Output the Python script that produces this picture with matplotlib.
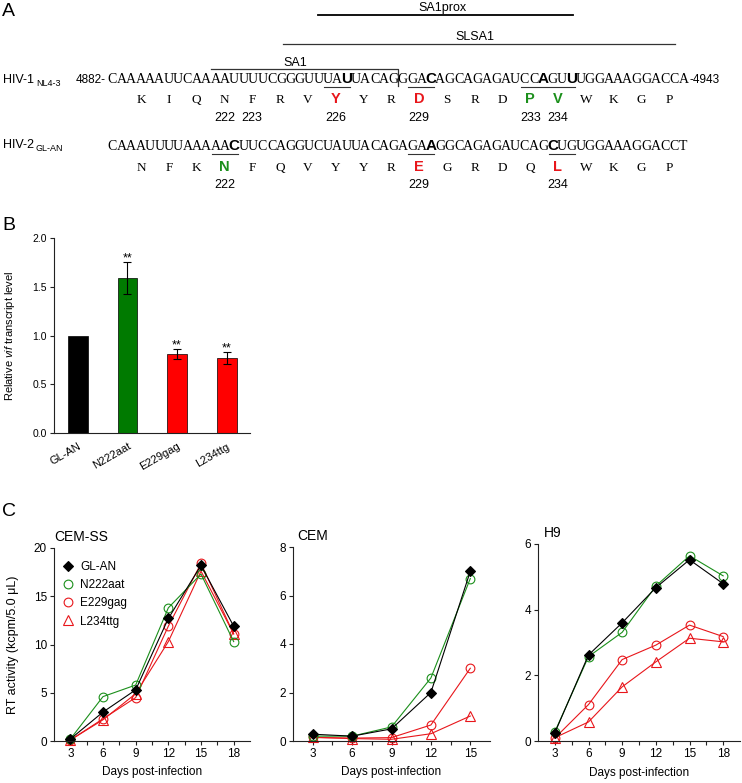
import numpy as np
import matplotlib
matplotlib.use('Agg')
import matplotlib.pyplot as plt

plt.rcParams['font.family'] = ['Liberation Sans', 'DejaVu Sans']
plt.rcParams['mathtext.fontset'] = 'custom'
plt.rcParams['mathtext.rm'] = 'Liberation Sans'
plt.rcParams['mathtext.it'] = 'Liberation Sans:italic'

RED = '#e8161b'
GREEN = '#1b8f1b'

# panel A: sequences
hiv1_seq = 'CAAAAAUUCAAAAUUUUCGGGUUUAUUACAGGGACAGCAGAGAUCCAGUUUGGAAAGGACCA'
hiv1_aa = 'KIQNFRVYYRDSRDPVWKGP'
hiv1_bold = [25, 34, 46, 49]
hiv1_under = [(23, 26), (32, 35), (44, 50)]
hiv1_aa_colors = {7: RED, 10: RED, 14: GREEN, 15: GREEN}
hiv1_numbers = {3: '222', 4: '223', 7: '226', 10: '229', 14: '233', 15: '234'}

hiv2_seq = 'CAAAUUUUAAAAACUUCCAGGUCUAUUACAGAGAAGGCAGAGAUCAGCUGUGGAAAGGACCT'
hiv2_aa = 'NFKNFQVYYREGRDQLWKGP'
hiv2_bold = [13, 34, 47]
hiv2_under = [(11, 14), (32, 35), (47, 50)]
hiv2_aa_colors = {3: GREEN, 10: RED, 15: RED}
hiv2_numbers = {3: '222', 10: '229', 15: '234'}

# panel B: vif transcript levels
bar_labels = ['GL-AN', 'N222aat', 'E229gag', 'L234ttg']
bar_values = [1.0, 1.59, 0.81, 0.77]
bar_errors = [0.0, 0.16, 0.05, 0.06]
bar_colors = ['black', '#007a00', '#ff0000', '#ff0000']

# panel C: RT activity
days = [3, 6, 9, 12, 15, 18]
cem_days = [3, 6, 9, 12, 15]
cemss_glan = [0.2, 3.0, 5.3, 12.7, 18.2, 11.9]
cemss_n222 = [0.2, 4.6, 5.8, 13.8, 17.3, 10.3]
cemss_e229 = [0.1, 2.3, 4.5, 11.9, 18.4, 11.1]
cemss_l234 = [0.1, 2.2, 4.9, 10.3, 17.6, 11.1]
cem_glan = [0.28, 0.2, 0.5, 2.0, 7.0]
cem_n222 = [0.2, 0.2, 0.58, 2.6, 6.7]
cem_e229 = [0.15, 0.12, 0.14, 0.66, 3.0]
cem_l234 = [0.15, 0.1, 0.07, 0.3, 1.03]
h9_glan = [0.25, 2.62, 3.6, 4.67, 5.52, 4.79]
h9_n222 = [0.28, 2.57, 3.31, 4.72, 5.64, 5.03]
h9_e229 = [0.09, 1.11, 2.48, 2.92, 3.53, 3.18]
h9_l234 = [0.1, 0.58, 1.65, 2.41, 3.13, 3.02]

W, H = 742, 783
fig = plt.figure(figsize=(W / 100, H / 100), dpi=100)

# overlay axes in pixel coordinates for panel A and panel letters
ax_a = fig.add_axes([0, 0, 1, 1])
ax_a.set_xlim(0, W)
ax_a.set_ylim(H, 0)
ax_a.axis('off')

seq_x0, seq_dx = 112.5, 9.36
aa_x0, aa_dx = 141, 27.8


def draw_sequence(seq, aa, bold, under, aa_colors, numbers, y_seq, y_aa, y_num):
    for i, ch in enumerate(seq):
        x = seq_x0 + seq_dx * i
        if i in bold:
            ax_a.text(x, y_seq, ch, ha='center', va='baseline', fontsize=11,
                      fontweight='bold', family='Liberation Sans')
        else:
            ax_a.text(x, y_seq, ch, ha='center', va='baseline', fontsize=10,
                      family='Liberation Serif')
    for s, e in under:
        x1 = seq_x0 + seq_dx * (s - 0.5) + 1
        x2 = seq_x0 + seq_dx * (e - 0.5) - 1
        ax_a.plot([x1, x2], [y_seq + 4, y_seq + 4], color='#333333', lw=0.8)
    for k, ch in enumerate(aa):
        x = aa_x0 + aa_dx * k
        if k in aa_colors:
            ax_a.text(x, y_aa, ch, ha='center', va='baseline', fontsize=10.5,
                      fontweight='bold', color=aa_colors[k], family='Liberation Sans')
        else:
            ax_a.text(x, y_aa, ch, ha='center', va='baseline', fontsize=9.5,
                      family='Liberation Serif')
    for k, num in numbers.items():
        ax_a.text(aa_x0 + aa_dx * k, y_num, num, ha='center', va='baseline', fontsize=9)


draw_sequence(hiv1_seq, hiv1_aa, hiv1_bold, hiv1_under, hiv1_aa_colors, hiv1_numbers, 83, 103, 121)
draw_sequence(hiv2_seq, hiv2_aa, hiv2_bold, hiv2_under, hiv2_aa_colors, hiv2_numbers, 150, 171, 188)

# sequence labels
ax_a.text(3, 83, 'HIV-1', fontsize=9, va='baseline', ha='left')
ax_a.text(36, 86, 'NL4-3', fontsize=6.5, va='baseline', ha='left')
ax_a.text(76, 83, '4882-', fontsize=8.5, va='baseline', ha='left')
ax_a.text(690, 83, '-4943', fontsize=8.5, va='baseline', ha='left')
ax_a.text(3, 148, 'HIV-2', fontsize=9, va='baseline', ha='left')
ax_a.text(36, 151, 'GL-AN', fontsize=6.5, va='baseline', ha='left')

# SA1 box, SLSA1 and SA1prox lines
ax_a.plot([211, 398, 398], [69, 69, 86], color='#333333', lw=0.9)
ax_a.text(295, 66, 'SA1', fontsize=9, ha='center', va='baseline')
ax_a.plot([283, 675], [44, 44], color='#333333', lw=0.9)
ax_a.text(475, 40, 'SLSA1', fontsize=9, ha='center', va='baseline')
ax_a.plot([318, 573], [15, 15], color='black', lw=1.3)
ax_a.text(442, 11, 'SA1prox', fontsize=9, ha='center', va='baseline')

# panel letters
ax_a.text(2, 12, 'A', fontsize=14, ha='left', va='center')
ax_a.text(2, 226, 'B', fontsize=14, ha='left', va='center')
ax_a.text(2, 512, 'C', fontsize=14, ha='left', va='center')


def px_axes(left, right, top, bottom):
    return fig.add_axes([left / W, 1 - bottom / H, (right - left) / W, (bottom - top) / H])


def style_axes(ax):
    for side in ['top', 'right']:
        ax.spines[side].set_visible(False)
    for side in ['left', 'bottom']:
        ax.spines[side].set_linewidth(0.8)
        ax.spines[side].set_color('#222222')
    ax.tick_params(direction='out', length=3, width=0.8, pad=2, color='#222222')


# panel B
ax_b = px_axes(54, 250, 238, 433)
style_axes(ax_b)
xb = np.arange(len(bar_labels))
ax_b.bar(xb, bar_values, width=0.4, color=bar_colors, edgecolor='black', linewidth=0.5)
ax_b.errorbar(xb[1:], bar_values[1:], yerr=bar_errors[1:], fmt='none', ecolor='black',
              elinewidth=0.8, capsize=3, capthick=0.8)
for xi, v, e in zip(xb[1:], bar_values[1:], bar_errors[1:]):
    ax_b.text(xi, v + e + 0.01, '**', ha='center', va='baseline', fontsize=9)
ax_b.set_xlim(-0.48, 3.47)
ax_b.set_ylim(0, 2.0)
ax_b.set_yticks([0, 0.5, 1.0, 1.5, 2.0])
ax_b.set_yticklabels(['0.0', '0.5', '1.0', '1.5', '2.0'], fontsize=7.5)
ax_b.set_xticks(xb)
ax_b.set_xticklabels(bar_labels, rotation=30, ha='right', rotation_mode='anchor', fontsize=8)
ax_b.tick_params(axis='x', length=0, pad=6)
ax_b.set_ylabel('Relative $\\it{vif}$ transcript level', fontsize=8)
ax_b.yaxis.set_label_coords(-0.19, 0.5)


# panel C
def rt_panel(left, right, top, x, series, xmax, ymax, ystep, title, title_dx):
    ax = px_axes(left, right, top, 741)
    style_axes(ax)
    styles = [('L234ttg', '^', RED, 'none', 6.5),
              ('E229gag', 'o', RED, 'none', 6.3),
              ('N222aat', 'o', GREEN, 'none', 6.3),
              ('GL-AN', 'D', 'black', 'black', 4.8)]
    handles = {}
    for (name, mk, col, fc, ms), ys in zip(styles, series[::-1]):
        line, = ax.plot(x, ys, marker=mk, color=col, mfc=fc, mec=col, ms=ms, lw=0.8,
                        mew=0.8, clip_on=False, label=name)
        handles[name] = line
    ax.set_xlim(1.5, xmax)
    ax.set_ylim(0, ymax)
    ax.set_yticks(np.arange(0, ymax + 0.01, ystep))
    ax.set_xticks(np.arange(3, xmax, 3))
    ax.set_xticks(np.arange(4.5, xmax, 3), minor=True)
    ax.tick_params(which='minor', direction='out', length=3, width=0.8, color='#222222')
    ax.tick_params(labelsize=8.5)
    ax.set_xlabel('Days post-infection', fontsize=8.5)
    ax.xaxis.set_label_coords(0.5, -0.13)
    ax.text(title_dx, 1.035, title, transform=ax.transAxes, fontsize=10, ha='left', va='baseline')
    return ax, handles


ax_c1, hd = rt_panel(54, 250, 548, days, [cemss_glan, cemss_n222, cemss_e229, cemss_l234],
                     19.5, 20, 5, 'CEM-SS', 0.0)
ax_c1.set_ylabel('RT activity (kcpm/5.0 μL)', fontsize=9)
ax_c1.yaxis.set_label_coords(-0.18, 0.5)
names = ['GL-AN', 'N222aat', 'E229gag', 'L234ttg']
leg = ax_c1.legend([hd[n] for n in names], names, loc='upper left', frameon=False, fontsize=8.5,
                   handlelength=1.0, handletextpad=0.5, labelspacing=0.52,
                   borderaxespad=0.3, bbox_to_anchor=(0.0, 0.975))
for h in leg.legend_handles:
    h.set_linestyle('none')

rt_panel(293, 490, 547, cem_days, [cem_glan, cem_n222, cem_e229, cem_l234],
         16.5, 8, 2, 'CEM', 0.02)
rt_panel(538, 740, 544, days, [h9_glan, h9_n222, h9_e229, h9_l234],
         19.5, 6, 2, 'H9', 0.03)

fig.savefig('out.png', dpi=100)
